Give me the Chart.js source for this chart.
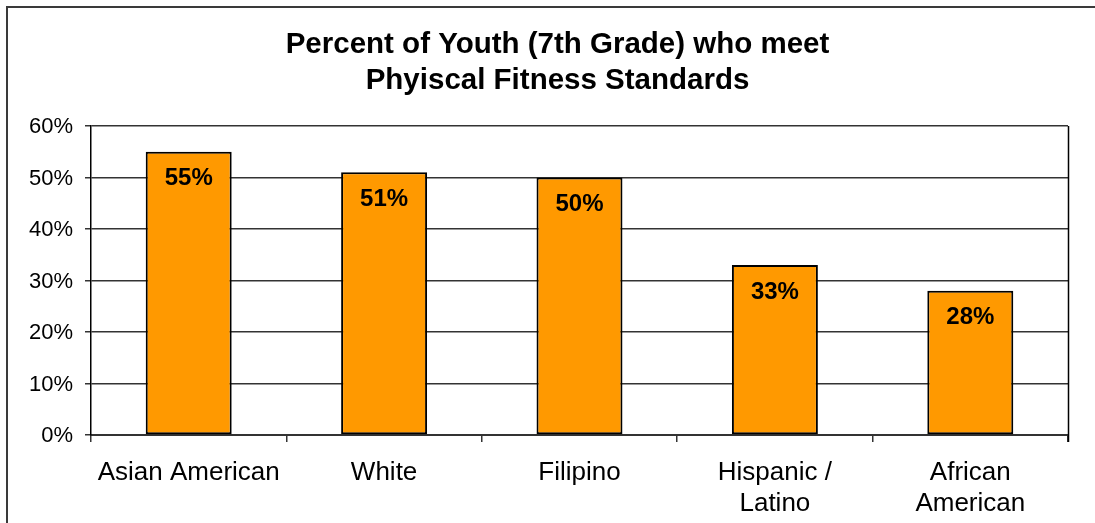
<!DOCTYPE html>
<html>
<head>
<meta charset="utf-8">
<script src="https://cdn.jsdelivr.net/npm/chart.js@4"></script>
<style>
  html, body { margin: 0; padding: 0; background: #ffffff; }
  canvas { display: block; }
</style>
</head>
<body>
<canvas id="chart" width="1095" height="523"></canvas>
<script>
// Groups along the x axis (multi-line labels are arrays of lines)
const categories = ['Asian American', 'White', 'Filipino', ['Hispanic /', 'Latino'], ['African', 'American']];
// Percent of 7th graders meeting the fitness standards
const percentMeeting = [55, 51, 50, 33, 28];
// Y axis range and step, in percent
const yTicks = { min: 0, max: 60, step: 10 };
const titleLines = ['Percent of Youth (7th Grade) who meet', 'Phyiscal Fitness Standards'];

const FONT = '"Liberation Sans", Arial, Helvetica, sans-serif';
const AXIS_COLOR = '#333333';

// White page with a dark frame around the figure, plus the two-line title
const framePlugin = {
  id: 'frame',
  beforeDraw(chart) {
    const ctx = chart.ctx;
    ctx.save();
    ctx.fillStyle = '#ffffff';
    ctx.fillRect(0, 0, chart.width, chart.height);
    ctx.strokeStyle = '#3a3a3a';
    ctx.lineWidth = 2;
    ctx.strokeRect(7, 7, chart.width + 20, chart.height + 20);

    ctx.fillStyle = '#000000';
    ctx.font = 'bold 29.5px ' + FONT;
    ctx.textAlign = 'center';
    ctx.textBaseline = 'alphabetic';
    const cx = 557.5;
    ctx.fillText(titleLines[0], cx, 53);
    ctx.fillText(titleLines[1], cx, 89);
    ctx.restore();
  },
  afterDatasetsDraw(chart) {
    // right edge of the plot area
    const a = chart.chartArea;
    const ctx = chart.ctx;
    ctx.save();
    ctx.strokeStyle = '#000000';
    ctx.lineWidth = 1.5;
    ctx.beginPath();
    ctx.moveTo(Math.round(a.right) + 0.5, a.top);
    ctx.lineTo(Math.round(a.right) + 0.5, a.bottom + 7);
    ctx.stroke();
    ctx.restore();
  }
};

// Value labels printed inside the top of each bar
const barLabelPlugin = {
  id: 'barLabels',
  afterDatasetsDraw(chart) {
    const ctx = chart.ctx;
    const meta = chart.getDatasetMeta(0);
    ctx.save();
    ctx.font = 'bold 24px ' + FONT;
    ctx.fillStyle = '#000000';
    ctx.textAlign = 'center';
    ctx.textBaseline = 'middle';
    meta.data.forEach((bar, i) => {
      const v = chart.data.datasets[0].data[i];
      ctx.fillText(v + '%', bar.x, bar.y + 27);
    });
    ctx.restore();
  }
};

new Chart(document.getElementById('chart'), {
  type: 'bar',
  data: {
    labels: categories,
    datasets: [{
      data: percentMeeting,
      backgroundColor: '#FF9900',
      borderColor: '#000000',
      borderWidth: 2,
      borderSkipped: false,
      categoryPercentage: 1.0,
      barPercentage: 0.44
    }]
  },
  options: {
    responsive: false,
    devicePixelRatio: 1,
    animation: false,
    layout: { padding: { left: 0, right: 27, top: 126, bottom: 0 } },
    plugins: {
      legend: { display: false },
      tooltip: { enabled: false },
      title: { display: false }
    },
    scales: {
      x: {
        grid: {
          offset: true,
          drawOnChartArea: false,
          drawTicks: true,
          tickLength: 7,
          color: AXIS_COLOR,
          lineWidth: 1.5
        },
        border: { display: true, color: AXIS_COLOR, width: 2 },
        ticks: {
          color: '#000000',
          font: { family: FONT, size: 26, lineHeight: 31 / 26 },
          padding: 15,
          maxRotation: 0,
          autoSkip: false
        },
        afterFit(scale) { scale.height = 88; }
      },
      y: {
        min: yTicks.min,
        max: yTicks.max,
        grid: {
          color: AXIS_COLOR,
          lineWidth: 1.5,
          drawTicks: true,
          tickLength: 6
        },
        border: { display: true, color: '#000000', width: 1.5 },
        ticks: {
          stepSize: yTicks.step,
          color: '#000000',
          font: { family: FONT, size: 22 },
          padding: 12,
          labelOffset: 1,
          callback: (v) => v + '%'
        },
        afterFit(scale) { scale.width = 91; }
      }
    }
  },
  plugins: [framePlugin, barLabelPlugin]
});
</script>
</body>
</html>
